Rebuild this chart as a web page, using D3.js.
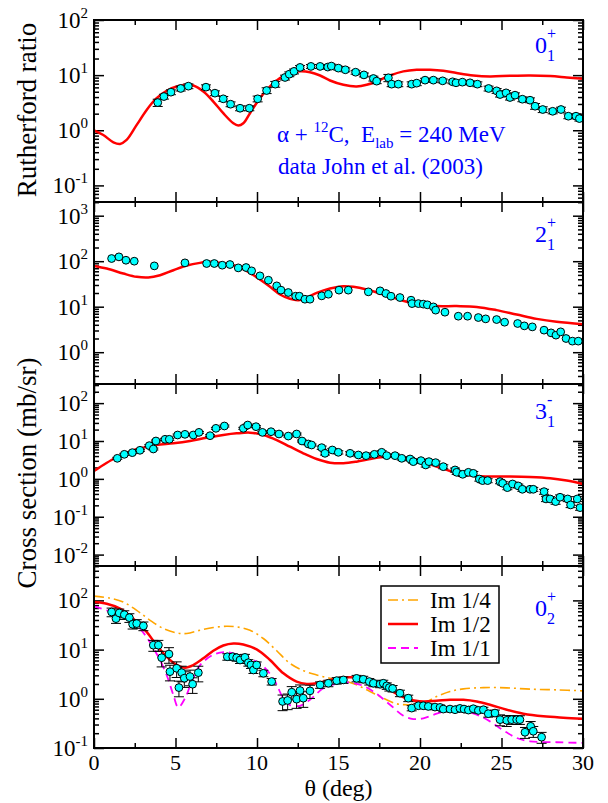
<!DOCTYPE html>
<html><head><meta charset="utf-8">
<script src="https://cdn.jsdelivr.net/npm/d3@7"></script>
<style>
body{margin:0;background:#fff}
svg{display:block}
</style>
</head><body>
<svg id="c" width="608" height="803" font-family="'Liberation Serif', 'Times New Roman', Times, 'DejaVu Serif', serif"></svg>
<script>
// ---------- DATA ----------
const xTicks = [0,5,10,15,20,25,30];
const xMinorTicks = [2.5,7.5,12.5,17.5,22.5,27.5];

// Panel 1: 0_1+ Rutherford ratio
const theta1 = [3.91,4.29,4.72,5.32,5.79,6.87,7.42,7.93,8.38,8.96,9.53,10.04,10.59,11.12,11.72,11.98,12.27,12.64,13.31,13.87,14.34,14.56,14.99,15.42,16.05,16.56,17.14,17.34,18.06,18.26,18.67,19.49,19.80,20.31,20.82,21.39,22.00,22.21,22.60,23.07,23.52,24.21,24.70,24.91,25.28,25.52,25.83,26.28,26.75,27.06,27.53,28.14,28.65,29.10,29.57,29.78];
const ratio1 = [3.18,4.09,4.91,5.73,6.31,6.05,4.71,3.72,2.97,2.51,2.51,3.72,5.26,6.86,9.07,10.4,11.7,13.8,14.4,14.4,14.0,14.6,13.4,12.5,11.3,10.1,8.69,7.78,8.95,6.86,6.86,6.86,7.16,8.11,8.11,7.88,7.57,7.26,7.46,7.26,6.86,5.73,5.19,4.45,4.77,3.93,4.33,3.66,3.51,2.73,2.38,2.21,2.38,1.80,1.80,1.63];
const relErr1 = [0.15,0.1,0.1,0.1,0.1, 0.1,0.1,0.1,0.1,0.1, 0.1,0.12,0.12,0.12,0.1, 0.1,0.1,0.08,0.08,0.08, 0.08,0.08,0.08,0.08,0.08, 0.08,0.1,0.1,0.15,0.1, 0.1,0.1,0.1,0.08,0.08, 0.08,0.08,0.08,0.08,0.08, 0.1,0.1,0.1,0.1,0.1, 0.1,0.1,0.1,0.1,0.12, 0.12,0.1,0.1,0.1,0.1, 0.1];
const curve1Theta = [0,0.57,1.19,1.60,2.00,2.62,3.23,3.84,4.46,5.07,5.69,6.09,6.71,7.32,7.93,8.55,8.85,9.16,9.57,10.18,10.80,11.41,12.02,12.64,13.25,13.87,14.48,15.30,16.11,16.73,17.34,18.16,18.98,19.80,20.61,21.43,22.25,23.27,24.29,25.52,26.75,27.98,29.0,30];
const curve1Val = [1.0,0.82,0.605,0.565,0.667,1.25,2.34,3.82,5.19,6.23,6.67,6.49,5.05,3.32,2.04,1.34,1.22,1.34,2.04,3.82,6.23,8.82,10.9,11.7,11.3,9.86,8.0,6.67,6.23,6.67,7.67,9.86,11.7,12.5,12.5,12.0,10.9,9.86,9.46,9.73,9.86,9.6,9.07,8.58];

// Panel 2: 2_1+
const theta2 = [1.08,1.53,1.96,2.47,3.70,5.58,6.91,7.38,7.87,8.34,8.85,9.33,9.67,10.18,10.70,11.21,11.47,11.92,12.37,12.60,12.94,13.25,13.97,14.38,15.03,15.60,16.83,17.55,17.91,18.22,18.77,19.45,19.51,19.90,20.20,20.45,20.82,20.96,21.53,22.35,22.92,23.58,24.03,24.70,25.19,25.99,26.40,26.89,27.61,28.04,28.34,28.63,28.96,29.35,29.71];
const sigma2 = [114.5,124.5,105,100,78.9,91.9,88.9,88.9,81.7,84.5,71.3,72.6,61.3,47.6,38.2,28.7,23.1,20.5,17.0,17.0,14.6,14.6,17.3,18.8,23.1,23.1,21.2,22.3,19.5,17.0,15.9,13.9,11.7,11.7,11.4,11.0,9.9,8.4,7.57,6.18,6.18,5.78,5.40,5.22,4.56,4.27,3.79,3.60,3.05,2.66,2.37,2.80,2.0,1.75,1.75];
const curve2Theta = [0,0.78,1.80,2.62,3.33,4.05,4.87,5.69,6.50,7.12,7.73,8.34,8.96,9.57,10.18,10.80,11.41,12.02,12.54,13.05,13.66,14.48,15.30,15.91,16.73,17.55,18.36,19.18,20.0,21.02,22.25,23.48,24.70,25.93,27.16,28.38,30];
const curve2Val = [78.9,69.0,53.6,45.3,43.8,49.2,63.4,80.3,91.9,96.7,91.9,85.9,72.6,55.4,39.5,27.3,18.5,14.9,13.9,15.9,20.1,25.1,28.2,27.3,23.8,19.5,15.9,12.8,11.2,10.3,10.3,9.9,8.4,6.73,5.40,4.65,4.12];

// Panel 3: 3_1-
const theta3 = [1.43,1.86,2.35,2.82,3.39,3.64,3.80,4.36,4.62,5.13,5.58,6.09,6.44,7.12,7.48,8.0,9.16,9.43,9.94,10.33,10.86,11.35,11.92,12.43,12.76,13.15,13.35,13.97,14.17,14.62,14.99,15.71,16.22,16.69,17.20,17.65,17.96,18.47,18.88,19.39,19.59,20.06,20.35,20.55,20.96,21.43,22.15,22.25,22.62,22.97,23.27,23.64,23.84,24.15,24.91,25.07,25.36,25.68,26.03,26.28,26.75,26.95,27.61,27.73,27.98,28.32,28.59,29.06,29.24,29.65,29.82];
const sigma3 = [3.49,4.45,4.92,5.68,7.53,6.15,10,11.1,11.1,14.4,15.0,14.4,16.9,13.8,21.6,24.9,21.6,26.4,23.9,16.9,17.6,15.3,13.5,15.3,10.0,8.34,7.84,6.67,4.73,5.79,5.03,4.73,4.27,4.10,4.45,5.03,4.10,4.10,3.49,3.35,2.85,3.03,2.33,2.85,2.68,2.10,1.72,1.49,1.32,1.49,1.40,0.99,0.90,0.90,0.845,0.764,0.587,0.733,0.650,0.531,0.531,0.531,0.460,0.295,0.295,0.251,0.327,0.295,0.205,0.295,0.174];
const relErr3 = [0.06,0.06,0.06,0.06,0.06,0.06,0.06,0.06,0.06,0.06, 0.06,0.06,0.06,0.06,0.06,0.06,0.06,0.06,0.06,0.06, 0.06,0.06,0.06,0.06,0.06,0.06,0.06,0.1,0.1,0.1, 0.1,0.1,0.1,0.1,0.1,0.1,0.1,0.1,0.1,0.1, 0.1,0.1,0.12,0.12,0.1,0.12,0.12,0.12,0.12,0.12, 0.12,0.12,0.12,0.12,0.12,0.12,0.12,0.12,0.12,0.12, 0.12,0.12,0.15,0.15,0.15,0.15,0.15,0.15,0.15,0.15, 0.15];
const curve3Theta = [0,0.57,1.19,1.80,2.41,3.03,3.84,4.87,5.89,6.91,7.93,8.75,9.57,10.39,11.21,12.02,12.84,13.66,14.48,15.30,16.11,16.93,17.75,18.57,19.39,20.20,21.02,21.84,22.66,23.48,24.29,25.52,26.75,27.98,29.0,30];
const curve3Val = [1.61,2.33,3.35,4.45,5.68,6.67,7.84,8.67,10.0,12.2,14.4,15.9,16.6,14.4,10.6,7.08,4.73,3.35,2.68,2.58,2.85,3.35,3.78,3.86,3.49,2.85,2.10,1.61,1.32,1.19,1.15,1.15,1.12,1.04,0.90,0.733];

// Panel 4: 0_2+
const theta4 = [1.08,1.35,1.55,1.86,2.17,2.37,2.62,3.03,3.64,3.95,4.15,4.60,4.66,5.07,5.21,5.38,5.54,5.89,6.05,6.40,8.18,8.51,8.75,8.96,9.26,9.47,9.63,9.78,9.98,10.39,10.90,11.57,11.88,12.13,12.43,12.64,12.84,13.25,13.87,14.38,14.89,15.30,16.11,16.52,16.89,17.14,17.55,17.75,17.96,18.12,18.32,18.77,19.28,19.49,19.90,20.20,20.51,20.92,21.23,21.43,21.84,22.15,22.45,22.70,22.97,23.27,23.58,23.89,24.19,24.60,24.91,25.32,25.62,25.93,26.13,26.44,26.79,26.95,27.46];
const sigma4 = [58.1,42.6,55.5,51.3,44.6,32.7,33.8,30.3,12.3,12.3,6.84,8.11,3.56,4.17,1.69,3.40,2.62,2.83,1.98,3.40,7.16,7.16,6.84,6.14,6.95,5.42,4.87,3.85,4.87,3.30,2.24,0.883,0.925,1.36,0.984,1.47,1.03,1.45,1.92,2.07,2.34,2.42,2.6,2.49,2.24,2.07,1.98,2.07,1.83,1.69,1.62,1.30,1.03,0.647,0.722,0.722,0.700,0.679,0.668,0.618,0.618,0.600,0.638,0.618,0.590,0.628,0.581,0.600,0.498,0.513,0.377,0.365,0.377,0.377,0.377,0.209,0.276,0.219,0.166];
const relErr4 = [0.2,0.2,0.2,0.2,0.2,0.2,0.2,0.2,0.25,0.25, 0.35,0.35,0.35,0.35,0.35,0.35,0.35,0.35,0.35,0.35, 0.15,0.15,0.15,0.15,0.15,0.15,0.15,0.15,0.15,0.15, 0.15,0.35,0.35,0.3,0.35,0.3,0.35,0.3,0.15,0.15, 0.15,0.15,0.15,0.15,0.15,0.15,0.15,0.15,0.15,0.15, 0.15,0.15,0.15,0.12,0.12,0.12,0.12,0.12,0.12,0.12, 0.12,0.12,0.12,0.12,0.12,0.12,0.12,0.12,0.15,0.15, 0.25,0.25,0.2,0.2,0.2,0.25,0.25,0.25,0.25];
const curveHalfTheta = [0,0.78,1.60,2.41,3.23,3.84,4.46,5.07,5.58,6.09,6.71,7.32,7.93,8.55,9.16,9.98,10.80,11.62,12.43,13.05,13.66,14.48,15.30,16.11,16.93,17.75,18.57,19.39,20.20,21.02,21.84,22.66,23.48,24.29,25.32,26.34,27.57,28.79,30];
const curveHalfVal = [92.5,85.6,68.0,42.6,22.9,12.3,7.16,4.86,4.30,4.86,6.64,9.46,12.1,13.3,12.7,10.1,6.14,3.30,2.24,2.01,2.07,2.42,2.70,2.70,2.42,1.77,1.26,0.955,0.883,0.912,0.955,0.955,0.883,0.757,0.600,0.498,0.440,0.413,0.395];
const curveQuarterTheta = [0,0.98,1.80,2.62,3.44,4.25,5.07,5.69,6.50,7.32,8.14,8.75,9.57,10.39,11.21,12.02,12.84,13.66,14.48,15.30,16.11,16.93,17.75,18.57,19.39,20.20,21.02,21.84,22.66,23.89,25.32,26.75,28.38,30];
const curveQuarterVal = [122,111,92.5,62.8,39.4,26.8,21.9,21.2,24.8,28.1,29.8,28.9,24.8,16.8,9.46,5.26,3.74,3.05,2.62,2.34,1.92,1.41,1.03,0.792,0.757,0.817,1.11,1.41,1.59,1.69,1.67,1.57,1.52,1.45];
const curveFullTheta = [0,0.78,1.60,2.82,3.84,4.46,4.87,5.17,5.58,5.99,6.50,7.32,8.14,8.96,10.18,11.0,11.62,12.02,12.64,13.25,14.07,14.89,15.71,16.52,17.34,18.16,18.98,19.59,20.20,21.02,21.84,22.66,23.48,24.29,25.11,25.93,26.75,28.38,30];
const curveFullVal = [75.6,62.8,50.6,26.4,8.24,3.01,1.19,0.668,1.02,2.20,4.78,7.86,8.90,7.62,5.17,2.58,1.02,0.745,0.722,0.955,1.64,2.01,2.14,1.83,1.26,0.757,0.454,0.388,0.401,0.498,0.581,0.564,0.475,0.348,0.229,0.160,0.137,0.131,0.127];

const legendLabels = ["Im 1/4","Im 1/2","Im 1/1"];

// ---------- LAYOUT ----------
const svg = d3.select('#c');
const left = 94, right = 583;
const panelTops = [20, 202, 384, 566];
const panelH = 182;
const x = d3.scaleLinear().domain([0,30]).range([left,right]);

const RED = '#ff0000', ORANGE = '#ffa500', MAGENTA = '#ff00ff', BLUE = '#0000ff', CYAN = '#00ffff';

const panels = [
  {domain:[0.05,100], decades:[-1,0,1,2], theta:theta1, val:ratio1, err:relErr1,
   curves:[{t:curve1Theta, v:curve1Val, color:RED, w:2.5}], lab:['0','1','+'], labY:53},
  {domain:[0.2,2000], decades:[0,1,2,3], theta:theta2, val:sigma2, err:null,
   curves:[{t:curve2Theta, v:curve2Val, color:RED, w:2.5}], lab:['2','1','+'], labY:242},
  {domain:[0.005,320], decades:[-2,-1,0,1,2], theta:theta3, val:sigma3, err:relErr3,
   curves:[{t:curve3Theta, v:curve3Val, color:RED, w:2.5}], lab:['3','1','-'], labY:419},
  {domain:[0.1,500], decades:[-1,0,1,2], theta:theta4, val:sigma4, err:relErr4,
   curves:[{t:curveQuarterTheta, v:curveQuarterVal, color:ORANGE, w:1.6, dash:'10,4,2,4'},
           {t:curveHalfTheta, v:curveHalfVal, color:RED, w:2.5},
           {t:curveFullTheta, v:curveFullVal, color:MAGENTA, w:1.8, dash:'8,5'}],
   lab:['0','2','+'], labY:616}
];

const defs = svg.append('defs');

panels.forEach((p, i) => {
  const top = panelTops[i], bottom = top + panelH;
  const y = d3.scaleLog().domain(p.domain).range([bottom, top]);
  const g = svg.append('g');
  const clipId = 'clip' + i;
  defs.append('clipPath').attr('id', clipId).append('rect')
    .attr('x', left).attr('y', top).attr('width', right-left).attr('height', panelH);

  const majors = p.decades.map(k => Math.pow(10, k));
  const minors = [];
  const k0 = Math.floor(Math.log10(p.domain[0])), k1 = Math.ceil(Math.log10(p.domain[1]));
  for (let k = k0; k <= k1; k++) for (let m = 2; m <= 9; m++) {
    const v = m * Math.pow(10, k);
    if (v >= p.domain[0] * 0.999 && v <= p.domain[1] * 1.001) minors.push(v);
  }

  const tickStyle = sel => { sel.select('.domain').remove(); sel.selectAll('line').attr('stroke','#000').attr('stroke-width',1.5); sel.selectAll('text').remove(); };
  g.append('g').attr('transform',`translate(${left},0)`).call(d3.axisRight(y).tickValues(majors).tickSize(10).tickFormat('')).call(tickStyle);
  g.append('g').attr('transform',`translate(${left},0)`).call(d3.axisRight(y).tickValues(minors).tickSize(5).tickFormat('')).call(tickStyle);
  g.append('g').attr('transform',`translate(${right},0)`).call(d3.axisLeft(y).tickValues(majors).tickSize(10).tickFormat('')).call(tickStyle);
  g.append('g').attr('transform',`translate(${right},0)`).call(d3.axisLeft(y).tickValues(minors).tickSize(5).tickFormat('')).call(tickStyle);
  g.append('g').attr('transform',`translate(0,${top})`).call(d3.axisBottom(x).tickValues(xTicks).tickSize(10).tickFormat('')).call(tickStyle);
  g.append('g').attr('transform',`translate(0,${top})`).call(d3.axisBottom(x).tickValues(xMinorTicks).tickSize(5).tickFormat('')).call(tickStyle);
  g.append('g').attr('transform',`translate(0,${bottom})`).call(d3.axisTop(x).tickValues(xTicks).tickSize(10).tickFormat('')).call(tickStyle);
  g.append('g').attr('transform',`translate(0,${bottom})`).call(d3.axisTop(x).tickValues(xMinorTicks).tickSize(5).tickFormat('')).call(tickStyle);

  p.decades.forEach(k => {
    const t = g.append('text').attr('x', left - 6).attr('y', y(Math.pow(10,k)) + 8)
      .attr('text-anchor','end').attr('font-size',23).attr('fill','#000');
    t.append('tspan').text('10');
    t.append('tspan').attr('dy',-10).attr('font-size',15).text(String(k));
  });

  const pg = g.append('g').attr('clip-path', `url(#${clipId})`);
  const idx = d3.range(p.theta.length);

  const line = d3.line().x(d => x(d[0])).y(d => y(d[1])).curve(d3.curveCatmullRom.alpha(0.5));
  p.curves.forEach(c => {
    pg.append('path').datum(c.t.map((t, j) => [t, c.v[j]]))
      .attr('d', line).attr('fill','none').attr('stroke', c.color)
      .attr('stroke-width', c.w).attr('stroke-dasharray', c.dash || null);
  });

  if (p.err) {
    const eg = pg.append('g').attr('stroke','#000').attr('stroke-width',1);
    idx.forEach(j => {
      const e = p.err[j]; if (e == null) return;
      const v = p.val[j], xx = x(p.theta[j]);
      const y1 = y(v * (1 + e)), y2 = y(v * (1 - e));
      eg.append('line').attr('x1',xx).attr('x2',xx).attr('y1',y1).attr('y2',y2);
      eg.append('line').attr('x1',xx-5).attr('x2',xx+5).attr('y1',y1).attr('y2',y1);
      eg.append('line').attr('x1',xx-5).attr('x2',xx+5).attr('y1',y2).attr('y2',y2);
    });
  }

  pg.selectAll('circle.pt').data(idx).join('circle').attr('class','pt')
    .attr('cx', j => x(p.theta[j])).attr('cy', j => y(p.val[j])).attr('r', 3.9)
    .attr('fill', CYAN).attr('stroke','#000').attr('stroke-width',1);

  g.append('rect').attr('x', left).attr('y', top).attr('width', right-left).attr('height', panelH)
    .attr('fill','none').attr('stroke','#000').attr('stroke-width',2);

  const lt = g.append('text').attr('x', 535).attr('y', p.labY).attr('fill', BLUE).attr('font-size',24);
  lt.append('tspan').text(p.lab[0]);
  lt.append('tspan').attr('dy',8).attr('font-size',16).text(p.lab[1]);
  lt.append('tspan').attr('x', 547).attr('dy',-22).attr('font-size',16).text(p.lab[2]);
});

const bottomY = panelTops[3] + panelH;
svg.append('g').selectAll('text').data(xTicks).join('text')
  .attr('x', d => x(d)).attr('y', bottomY + 22).attr('text-anchor','middle')
  .attr('font-size',22).text(d => d);

svg.append('text').attr('transform','translate(36,110) rotate(-90)').attr('text-anchor','middle')
  .attr('font-size',27).text('Rutherford ratio');
svg.append('text').attr('transform','translate(36,473) rotate(-90)').attr('text-anchor','middle')
  .attr('font-size',27).text('Cross section (mb/sr)');
svg.append('text').attr('x', (left+right)/2).attr('y', 796).attr('text-anchor','middle')
  .attr('font-size',24).text('θ (deg)');

const an = svg.append('text').attr('x',277).attr('y',142).attr('fill',BLUE).attr('font-size',23).style('white-space','pre');
an.append('tspan').text('α + ');
an.append('tspan').attr('dy',-10).attr('font-size',15).text('12');
an.append('tspan').attr('dy',10).text('C,  E');
an.append('tspan').attr('dy',6).attr('font-size',15).text('lab');
an.append('tspan').attr('dy',-6).text(' = 240 MeV');
svg.append('text').attr('x',278).attr('y',174).attr('fill',BLUE).attr('font-size',23).text('data John et al. (2003)');

const lg = svg.append('g');
lg.append('rect').attr('x',381).attr('y',586).attr('width',118).attr('height',77)
  .attr('fill','#fff').attr('stroke','#000').attr('stroke-width',1.5);
const legendStyles = [{color:ORANGE,w:1.6,dash:'10,4,2,4'},{color:RED,w:2.5},{color:MAGENTA,w:1.8,dash:'8,5'}];
const legendY = [600, 624, 648];
legendLabels.forEach((l, j) => {
  lg.append('line').attr('x1',388).attr('x2',418).attr('y1',legendY[j]).attr('y2',legendY[j])
    .attr('stroke',legendStyles[j].color).attr('stroke-width',legendStyles[j].w)
    .attr('stroke-dasharray',legendStyles[j].dash || null);
  lg.append('text').attr('x',430).attr('y',legendY[j]+8).attr('font-size',23).text(l);
});
</script>
</body></html>
